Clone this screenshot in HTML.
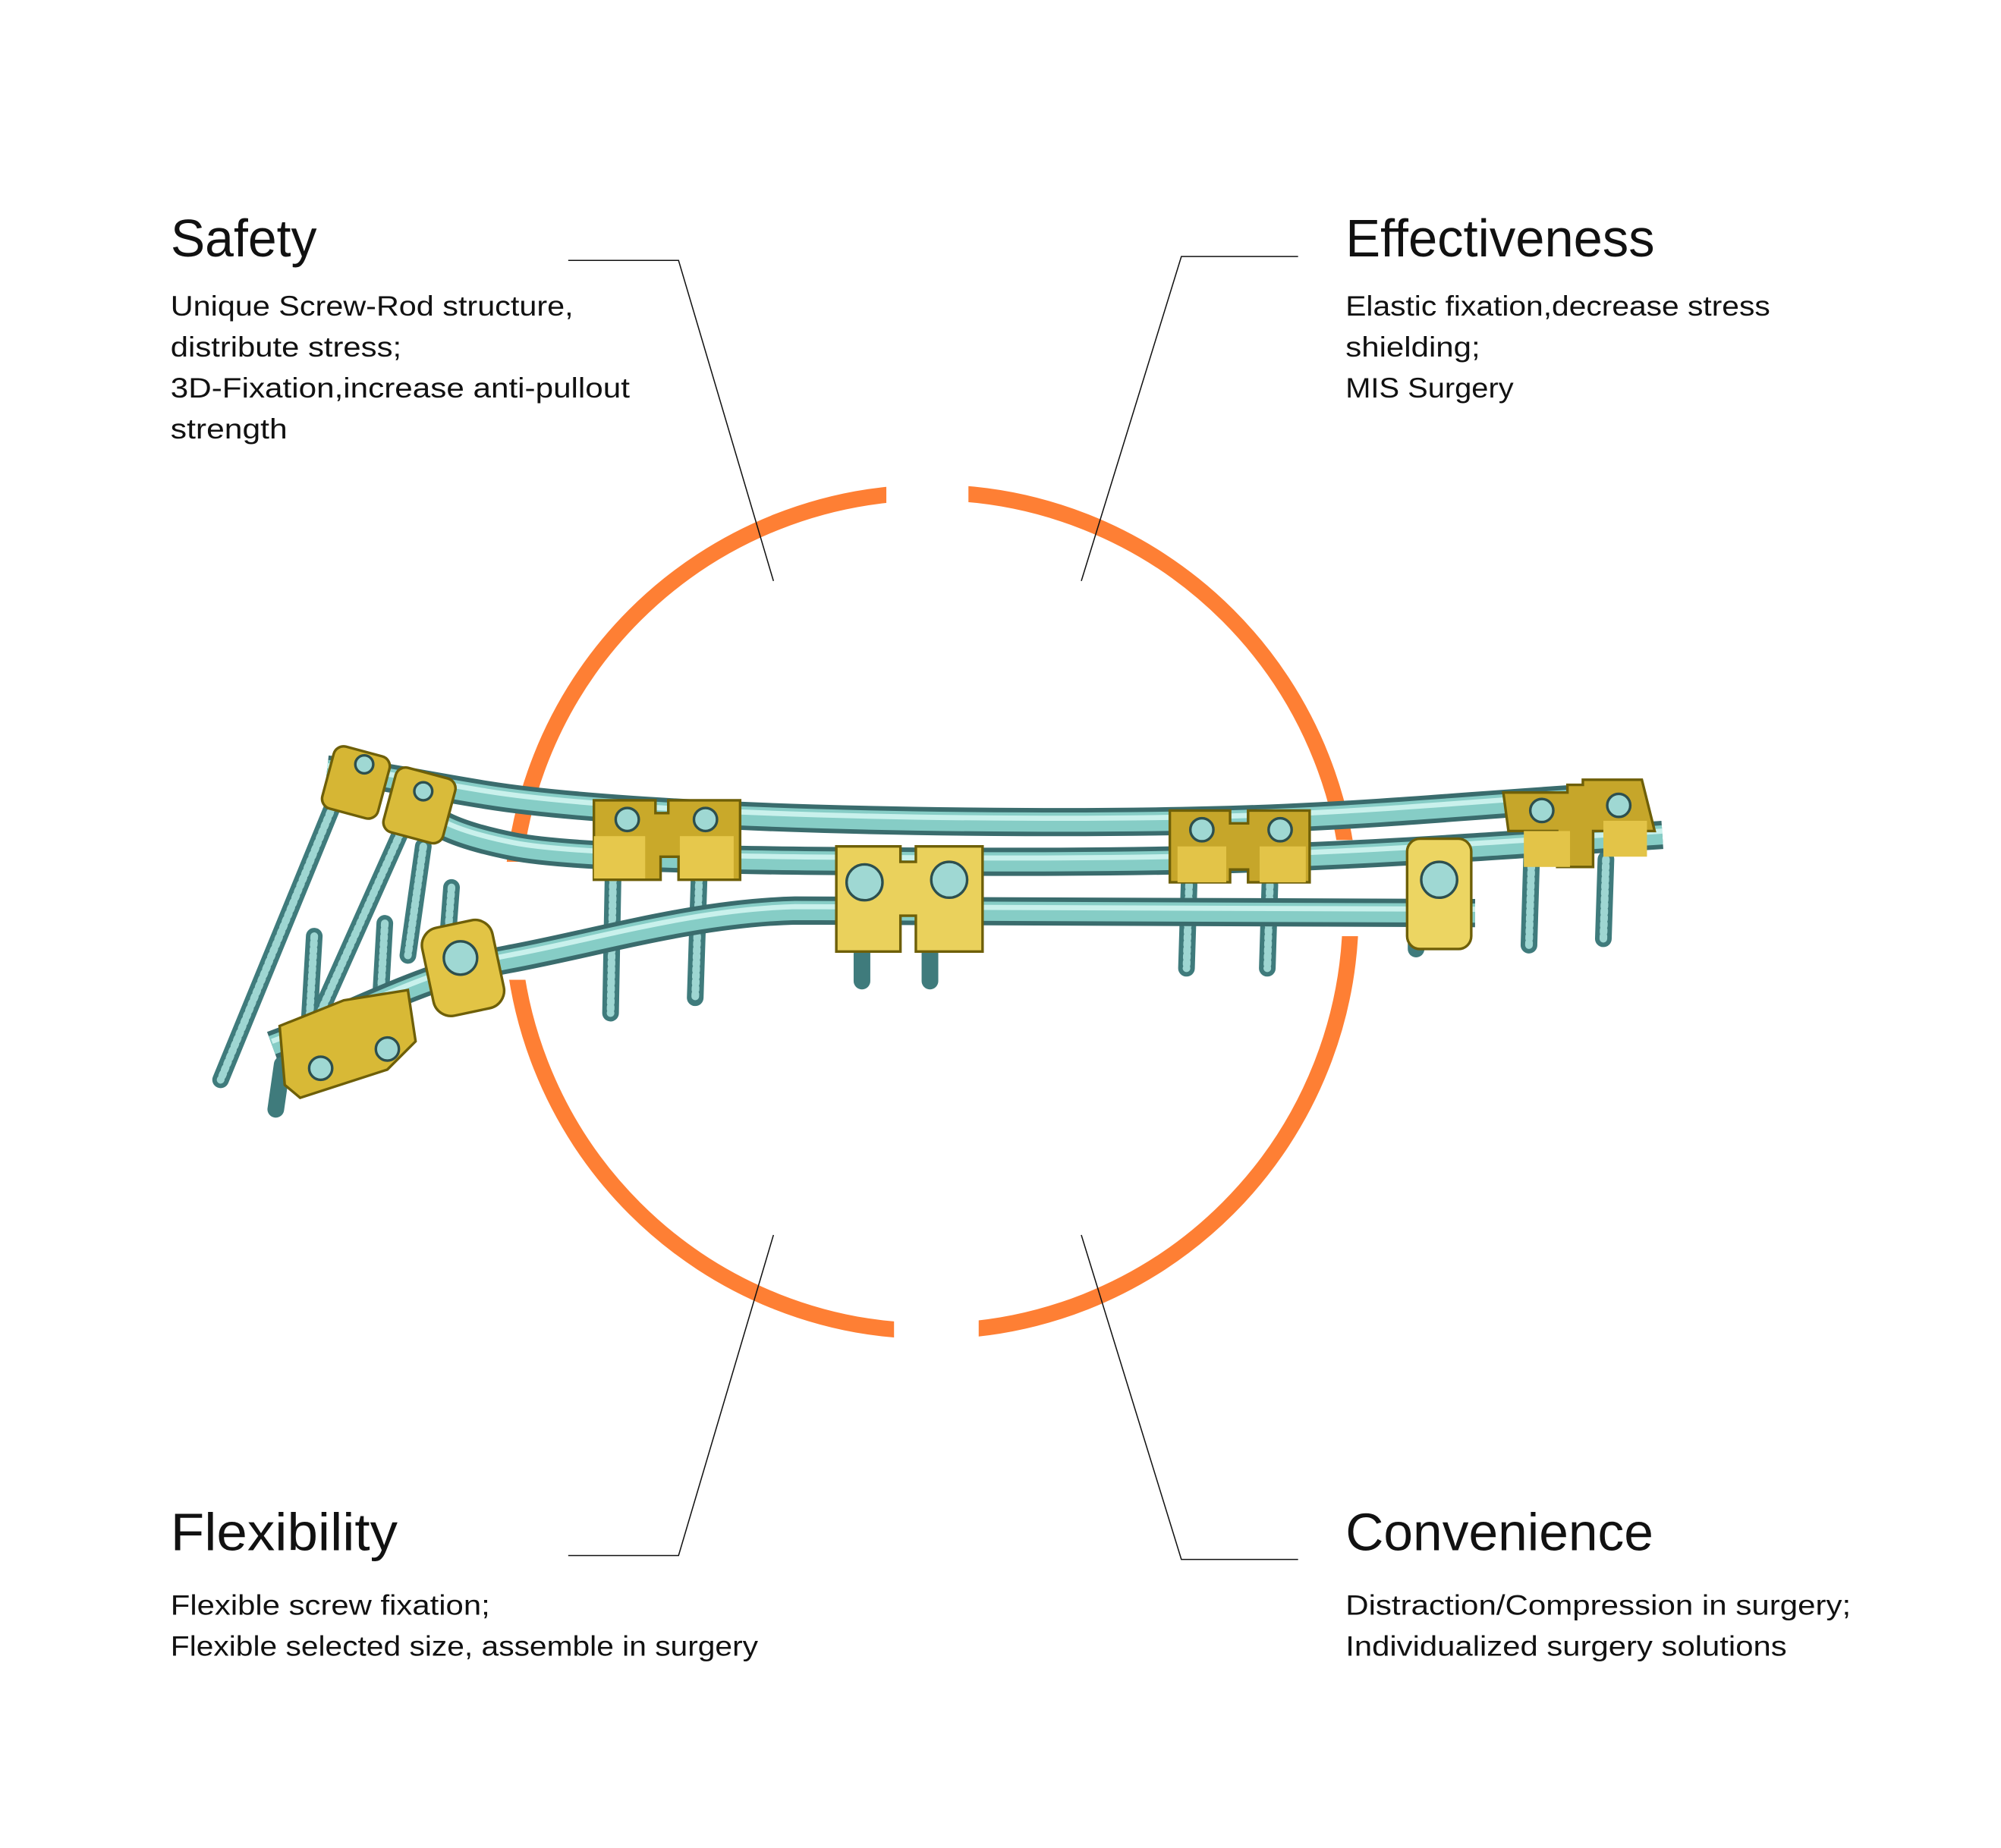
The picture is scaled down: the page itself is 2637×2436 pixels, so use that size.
<!DOCTYPE html>
<html><head><meta charset="utf-8"><style>
html,body{margin:0;padding:0;background:#fff;}
svg{display:block;}
text{font-family:"Liberation Sans",sans-serif;fill:#111;}
</style></head><body>
<svg width="2637" height="2436" viewBox="0 0 1560 1441" xmlns="http://www.w3.org/2000/svg">
<rect width="1560" height="1441" fill="#fff"/>
<circle cx="726" cy="711" r="327" fill="none" stroke="#fe7f34" stroke-width="12.5"/>
<rect x="691" y="370" width="64" height="40" fill="#fff"/>
<rect x="697" y="1015" width="66" height="40" fill="#fff"/>
<rect x="388" y="672" width="34" height="92" fill="#fff"/>
<rect x="1036" y="655" width="32" height="75" fill="#fff"/>
<g fill="none" stroke="#111" stroke-width="0.9">
<polyline points="443,203 529,203 603,453"/>
<polyline points="1012,200 921,200 843,453"/>
<polyline points="443,1213 529,1213 603,963"/>
<polyline points="1012,1216 921,1216 843,963"/>
</g>
<g font-size="41">
<text x="133" y="200" textLength="114" lengthAdjust="spacingAndGlyphs">Safety</text>
<text x="1049" y="200" textLength="241" lengthAdjust="spacingAndGlyphs">Effectiveness</text>
<text x="133" y="1209" textLength="177" lengthAdjust="spacingAndGlyphs">Flexibility</text>
<text x="1049" y="1209" textLength="240" lengthAdjust="spacingAndGlyphs">Convenience</text>
</g>
<g font-size="22">
<text x="133" y="246" textLength="314" lengthAdjust="spacingAndGlyphs">Unique Screw-Rod structure,</text>
<text x="133" y="278" textLength="180" lengthAdjust="spacingAndGlyphs">distribute stress;</text>
<text x="133" y="310" textLength="358" lengthAdjust="spacingAndGlyphs">3D-Fixation,increase anti-pullout</text>
<text x="133" y="342" textLength="91" lengthAdjust="spacingAndGlyphs">strength</text>
<text x="1049" y="246" textLength="331" lengthAdjust="spacingAndGlyphs">Elastic fixation,decrease stress</text>
<text x="1049" y="278" textLength="105" lengthAdjust="spacingAndGlyphs">shielding;</text>
<text x="1049" y="310" textLength="131" lengthAdjust="spacingAndGlyphs">MIS Surgery</text>
<text x="133" y="1259" textLength="249" lengthAdjust="spacingAndGlyphs">Flexible screw fixation;</text>
<text x="133" y="1291" textLength="458" lengthAdjust="spacingAndGlyphs">Flexible selected size, assemble in surgery</text>
<text x="1049" y="1259" textLength="394" lengthAdjust="spacingAndGlyphs">Distraction/Compression in surgery;</text>
<text x="1049" y="1291" textLength="344" lengthAdjust="spacingAndGlyphs">Individualized surgery solutions</text>
</g>
<g stroke-linecap="round" fill="none">
<g stroke="#3f7b7c" stroke-width="13">
<line x1="265" y1="615" x2="172" y2="842"/>
<line x1="312" y1="650" x2="245" y2="800"/>
<line x1="330" y1="660" x2="318" y2="745"/>
<line x1="352" y1="692" x2="348" y2="745"/>
<line x1="245" y1="730" x2="240" y2="815"/>
<line x1="300" y1="720" x2="296" y2="790"/>
<line x1="220" y1="830" x2="215" y2="865"/>
<line x1="478" y1="680" x2="476" y2="790"/>
<line x1="545" y1="685" x2="542" y2="778"/>
<line x1="672" y1="735" x2="672" y2="765"/>
<line x1="725" y1="735" x2="725" y2="765"/>
<line x1="927" y1="690" x2="925" y2="755"/>
<line x1="990" y1="690" x2="988" y2="755"/>
<line x1="1104" y1="725" x2="1104" y2="740"/>
<line x1="1194" y1="670" x2="1192" y2="737"/>
<line x1="1252" y1="670" x2="1250" y2="732"/>
</g>
<g stroke="#9ed6d2" stroke-width="6" stroke-dasharray="2 3">
<line x1="265" y1="615" x2="172" y2="842"/>
<line x1="312" y1="650" x2="245" y2="800"/>
<line x1="330" y1="660" x2="318" y2="745"/>
<line x1="352" y1="692" x2="348" y2="745"/>
<line x1="245" y1="730" x2="240" y2="815"/>
<line x1="300" y1="720" x2="296" y2="790"/>
<line x1="478" y1="680" x2="476" y2="790"/>
<line x1="545" y1="685" x2="542" y2="778"/>
<line x1="927" y1="690" x2="925" y2="755"/>
<line x1="990" y1="690" x2="988" y2="755"/>
<line x1="1194" y1="670" x2="1192" y2="737"/>
<line x1="1252" y1="670" x2="1250" y2="732"/>
</g>
</g>
<g fill="none" stroke-linecap="butt">
<g stroke="#3a6c6d" stroke-width="22">
<path d="M255,600 C300,605 330,612 380,620 S560,640 800,641 S1100,630 1275,620"/>
<path d="M318,622 C335,640 350,650 400,660 S600,672 800,672 S1100,664 1296,651"/>
<path d="M212,815 C280,790 330,760 396,748 S540,712 620,710 L1150,712"/>
</g>
<g stroke="#86cdc6" stroke-width="15">
<path d="M255,600 C300,605 330,612 380,620 S560,640 800,641 S1100,630 1275,620"/>
<path d="M318,622 C335,640 350,650 400,660 S600,672 800,672 S1100,664 1296,651"/>
<path d="M212,815 C280,790 330,760 396,748 S540,712 620,710 L1150,712"/>
</g>
<g stroke="#c9f1ec" stroke-width="4" transform="translate(0,-3)">
<path d="M255,600 C300,605 330,612 380,620 S560,640 800,641 S1100,630 1275,620"/>
<path d="M318,622 C335,640 350,650 400,660 S600,672 800,672 S1100,664 1296,651"/>
<path d="M212,815 C280,790 330,760 396,748 S540,712 620,710 L1150,712"/>
</g>
</g>
<g stroke="#6e5f08" stroke-width="2">
<rect x="255" y="585" width="45" height="50" rx="8" fill="#d6b634" transform="rotate(15 277 610)"/>
<rect x="303" y="602" width="48" height="52" rx="8" fill="#d9bb3a" transform="rotate(15 327 628)"/>
<path d="M463,624 h48 v10 h10 v-10 h56 v62 h-48 v-18 h-14 v18 h-52 z" fill="#c9a92a"/>
<rect x="463" y="652" width="40" height="33" fill="#e6c84c" stroke="none"/>
<rect x="530" y="652" width="42" height="33" fill="#e6c84c" stroke="none"/>
<path d="M652,660 h50 v12 h12 v-12 h52 v82 h-52 v-28 h-12 v28 h-50 z" fill="#ead15c"/>
<path d="M912,632 h47 v10 h14 v-10 h48 v56 h-48 v-10 h-14 v10 h-47 z" fill="#c6a62a"/>
<rect x="918" y="660" width="38" height="28" fill="#e3c448" stroke="none"/>
<rect x="982" y="660" width="36" height="28" fill="#e3c448" stroke="none"/>
<rect x="1097" y="654" width="50" height="86" rx="10" fill="#ecd562"/>
<path d="M1172,618 h50 v-6 h12 v-4 h46 l10 40 h-48 v28 h-28 v-28 h-38 z" fill="#c6a62a"/>
<rect x="1188" y="648" width="36" height="28" fill="#e3c448" stroke="none"/>
<rect x="1250" y="640" width="34" height="28" fill="#e3c448" stroke="none"/>
<rect x="333" y="720" width="56" height="70" rx="14" fill="#e2c445" transform="rotate(-12 360 755)"/>
<path d="M218,800 l50,-20 l50,-8 l6,40 l-22,22 l-68,22 l-12,-10 z" fill="#d8b936"/>
</g>
<g fill="#9fd8d3" stroke="#2d4f4e" stroke-width="2">
<circle cx="284" cy="596" r="7"/>
<circle cx="330" cy="617" r="7"/>
<circle cx="489" cy="639" r="9"/>
<circle cx="550" cy="639" r="9"/>
<circle cx="674" cy="688" r="14"/>
<circle cx="740" cy="686" r="14"/>
<circle cx="937" cy="647" r="9"/>
<circle cx="998" cy="647" r="9"/>
<circle cx="1122" cy="686" r="14"/>
<circle cx="1202" cy="632" r="9"/>
<circle cx="1262" cy="628" r="9"/>
<circle cx="359" cy="747" r="13"/>
<circle cx="250" cy="833" r="9"/>
<circle cx="302" cy="818" r="9"/>
</g>
</svg>
</body></html>
